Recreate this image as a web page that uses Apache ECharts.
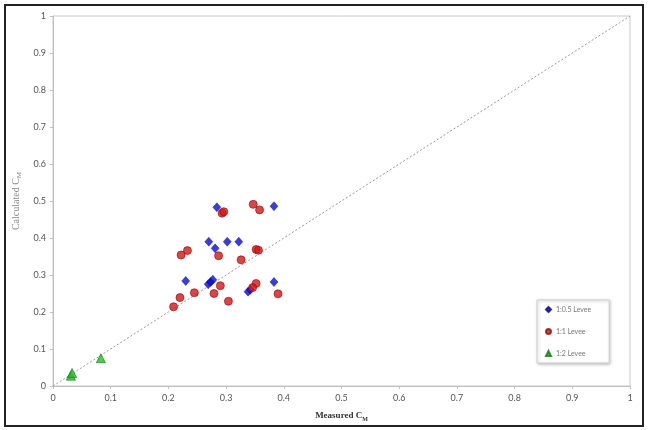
<!DOCTYPE html>
<html>
<head>
<meta charset="utf-8">
<script src="https://cdn.jsdelivr.net/npm/echarts@6/dist/echarts.min.js"></script>
<style>
  html, body { margin: 0; padding: 0; background: #fff; }
  #wrap { position: relative; width: 653px; height: 430px; }
  #chart { position: absolute; left: 0; top: 0; width: 653px; height: 430px; }
  .frame {
    position: absolute; left: 4px; top: 4px; width: 636px; height: 419px;
    border: 2px solid #222; pointer-events: none;
  }
</style>
</head>
<body>
<div id="wrap">
  <div id="chart"></div>
  <div class="frame"></div>
</div>
<script>
// measured vs calculated C_M
const levee05 = [
  [0.284, 0.483], [0.383, 0.486], [0.270, 0.390], [0.302, 0.390], [0.322, 0.390],
  [0.281, 0.372], [0.230, 0.284], [0.269, 0.275], [0.273, 0.281], [0.277, 0.287],
  [0.383, 0.281], [0.338, 0.255], [0.342, 0.260]
]
const levee1 = [
  [0.347, 0.491], [0.358, 0.476], [0.293, 0.467], [0.296, 0.471], [0.233, 0.366],
  [0.222, 0.354], [0.287, 0.352], [0.352, 0.369], [0.356, 0.367], [0.326, 0.341],
  [0.290, 0.271], [0.245, 0.252], [0.279, 0.250], [0.220, 0.239], [0.209, 0.214],
  [0.304, 0.229], [0.352, 0.277], [0.346, 0.266], [0.390, 0.249]
]
const levee2 = [
  [0.031, 0.028], [0.033, 0.035], [0.083, 0.075]
]
const lineOfEquality = [[0, 0], [1, 1]]
const seriesNames = ['1:0.5 Levee', '1:1 Levee', '1:2 Levee']

const chart = echarts.init(document.getElementById('chart'), null, { renderer: 'canvas' })

const tickFont = { color: '#555', fontSize: 9, fontFamily: 'Lato, "DejaVu Sans", sans-serif' }

const option = {
  animation: false,
  backgroundColor: '#fff',
  grid: {
    left: 53, top: 16, right: 23, bottom: 44,
    show: true, borderColor: '#c8c8c8', borderWidth: 1
  },
  legend: {
    data: seriesNames,
    orient: 'vertical',
    left: 537, top: 300,
    padding: [6, 18, 6, 8],
    itemGap: 15,
    itemWidth: 5, itemHeight: 5,
    backgroundColor: '#fff',
    borderColor: '#cfcfcf', borderWidth: 1,
    shadowColor: 'rgba(0,0,0,0.25)', shadowBlur: 3, shadowOffsetX: 1, shadowOffsetY: 1,
    textStyle: { color: '#777', fontSize: 7, fontFamily: 'Lato, "DejaVu Sans", sans-serif' }
  },
  xAxis: {
    type: 'value', min: 0, max: 1, interval: 0.1,
    name: '{a|Measured C}{s|M}',
    nameLocation: 'middle', nameGap: 24,
    nameTextStyle: {
      rich: {
        a: { fontFamily: '"Liberation Serif", serif', fontWeight: 'bold', fontSize: 9, color: '#333' },
        s: { fontFamily: '"Liberation Serif", serif', fontWeight: 'bold', fontSize: 6, color: '#333', padding: [6, 0, 0, 0] }
      }
    },
    axisLine: { lineStyle: { color: '#c0c0c0' } },
    axisTick: { show: true, length: 3, lineStyle: { color: '#c0c0c0' } },
    axisLabel: { ...tickFont, margin: 8 },
    splitLine: { show: false }
  },
  yAxis: {
    type: 'value', min: 0, max: 1, interval: 0.1,
    name: '{a|Calculated C}{s|M}',
    nameLocation: 'middle', nameGap: 30, nameRotate: 90,
    nameTextStyle: {
      rich: {
        a: { fontFamily: '"Liberation Serif", serif', fontSize: 10, color: '#888' },
        s: { fontFamily: '"Liberation Serif", serif', fontSize: 7, color: '#888', padding: [6, 0, 0, 0] }
      }
    },
    axisLine: { show: true, lineStyle: { color: '#c0c0c0' } },
    axisTick: { show: true, length: 3, lineStyle: { color: '#c0c0c0' } },
    axisLabel: { ...tickFont, margin: 7 },
    splitLine: { show: false }
  },
  series: [
    {
      name: 'equality',
      type: 'line',
      data: lineOfEquality,
      symbol: 'none',
      silent: true,
      lineStyle: { color: '#999', width: 1, type: [2, 2] },
      z: 1
    },
    {
      name: seriesNames[0],
      type: 'scatter',
      data: levee05,
      symbol: 'diamond',
      symbolSize: [8, 9],
      itemStyle: { color: '#0a0ad8', borderColor: '#06068a', borderWidth: 0.5 },
      z: 3
    },
    {
      name: seriesNames[1],
      type: 'scatter',
      data: levee1,
      symbol: 'circle',
      symbolSize: 8,
      itemStyle: { color: '#d81414', borderColor: '#8a1010', borderWidth: 0.8 },
      z: 3
    },
    {
      name: seriesNames[2],
      type: 'scatter',
      data: levee2,
      symbol: 'triangle',
      symbolSize: 9,
      itemStyle: { color: '#1fbf1f', borderColor: '#117711', borderWidth: 0.8 },
      z: 4
    }
  ]
}

chart.setOption(option)
</script>
</body>
</html>
